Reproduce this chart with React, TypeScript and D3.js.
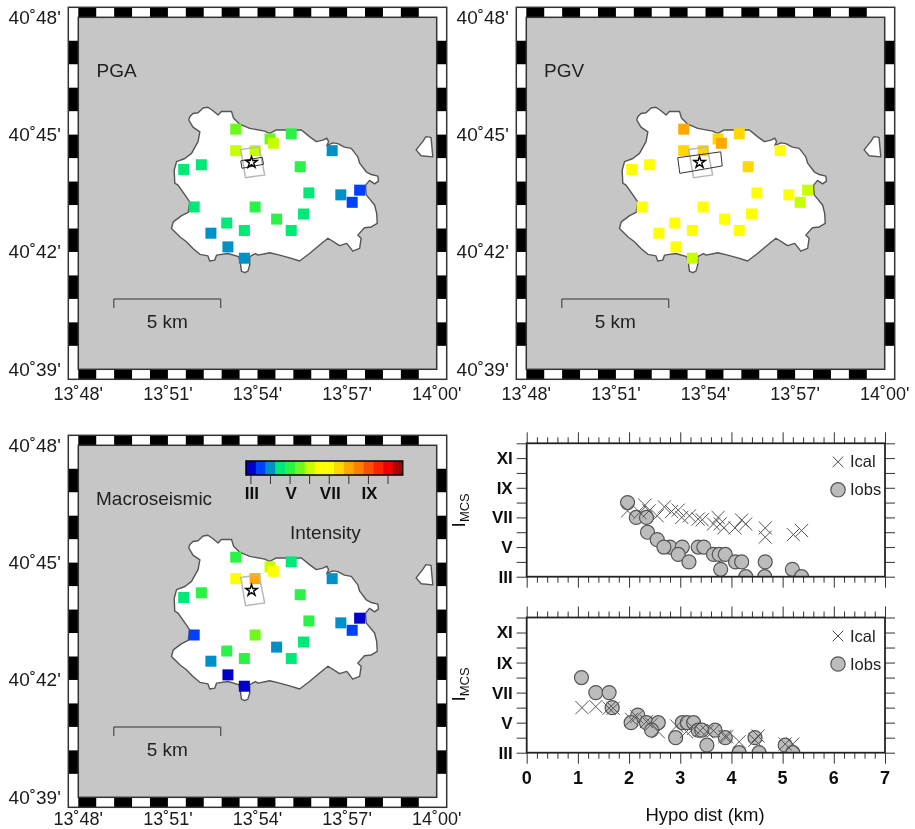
import { useEffect, useRef } from "react";
import * as d3 from "d3";

const FONT = "'Liberation Sans', Arial, sans-serif";

// map values are arc minutes past 13 deg E and 40 deg N
const lonTicks = [48, 51, 54, 57, 60];
const latTicks = [39, 42, 45, 48];

const islandOutline = [
  [51.73, 45.46], [51.84, 45.54], [52.01, 45.56], [52.18, 45.68], [52.34, 45.7], [52.51, 45.61], [52.68, 45.5],
  [52.79, 45.59], [53.13, 45.59], [53.2, 45.42], [53.4, 45.27], [53.74, 45.16], [54.24, 45.09], [54.41, 45.03],
  [54.63, 45.12], [55.47, 45.12], [55.74, 44.95], [55.97, 44.82], [56.19, 44.86], [56.32, 44.91], [56.38, 44.82],
  [56.32, 44.72], [56.52, 44.79], [56.69, 44.77], [56.91, 44.68], [57.14, 44.65], [57.36, 44.43], [57.42, 44.27],
  [57.64, 44.05], [57.81, 43.98], [58.03, 43.94], [58.05, 43.81], [57.92, 43.74], [57.75, 43.83], [57.62, 43.71],
  [57.62, 43.63], [57.64, 43.46], [57.92, 43.2], [57.99, 42.99], [58.01, 42.73], [57.81, 42.64], [57.58, 42.62],
  [57.36, 42.43], [57.47, 42.35], [57.42, 42.09], [57.19, 42.02], [56.99, 42.22], [56.75, 42.16], [56.36, 42.35],
  [56.08, 42.18], [55.74, 41.96], [55.41, 41.77], [55.08, 41.85], [54.74, 41.92], [54.41, 41.98], [54.02, 41.92],
  [53.93, 41.96], [53.74, 41.88], [53.74, 41.67], [53.68, 41.51], [53.57, 41.47], [53.46, 41.51], [53.43, 41.71],
  [53.37, 41.88], [53.01, 41.96], [52.63, 41.92], [52.57, 41.79], [52.4, 41.77], [52.34, 41.9], [52.07, 41.94],
  [51.84, 42.09], [51.62, 42.26], [51.4, 42.39], [51.12, 42.6], [51.18, 42.77], [51.46, 42.93], [51.68, 43.01],
  [51.73, 43.28], [51.57, 43.46], [51.34, 43.71], [51.23, 43.76], [51.21, 44.09], [51.29, 44.31], [51.57, 44.39],
  [51.79, 44.52], [52.01, 44.82], [52.07, 45.07], [51.84, 45.19], [51.7, 45.37],
];
const vivaraOutline = [
  [59.31, 44.61], [59.53, 44.82], [59.64, 44.95], [59.81, 44.93], [59.87, 44.43], [59.48, 44.46],
];

const stationLon = [
  53.27, 54.42, 54.53, 55.13, 53.27, 53.92, 56.5, 51.53, 52.12, 55.43, 55.72, 56.79, 57.42, 57.17, 51.88, 53.92, 55.54,
  54.64, 52.97, 53.56, 55.13, 52.44, 53.01, 53.56,
];
const stationLat = [
  45.14, 44.89, 44.78, 45.02, 44.59, 44.59, 44.59, 44.11, 44.23, 44.18, 43.51, 43.46, 43.58, 43.27, 43.15, 43.15, 42.97,
  42.84, 42.74, 42.55, 42.55, 42.48, 42.13, 41.84,
];
const pgaLevels = [5.5, 5.5, 6, 5, 6, 6, 4, 4.5, 4.5, 5, 4.5, 4, 3.5, 3.5, 4.5, 5, 4.5, 5, 4.5, 4.5, 4.5, 4, 4, 4];
const pgvLevels = [8, 7.5, 8, 7.5, 7.5, 7.5, 7, 7, 7, 7.5, 7, 7, 6, 6, 7, 7, 7, 7, 7, 7, 7, 7, 7, 6];
const macroLevels = [5, 6, 6.5, 4.5, 6.5, 8, 4, 4.5, 5, 5, 5, 4, 3, 3.5, 3.5, 5.5, 4.5, 4, 5, 5, 4.5, 4, 3, 3];

const epicentre = [53.8, 44.29];
const grayFault = [[53.44, 44.62], [54.05, 44.69], [54.24, 43.97], [53.6, 43.9]];
const pgaFault = [[53.44, 44.33], [54.16, 44.42], [54.2, 44.24], [53.48, 44.14]];
const pgvFault = [[53.07, 44.41], [54.51, 44.56], [54.56, 44.2], [53.14, 44.01]];

const palette = [
  "#0000c8", "#0040ff", "#0090c8", "#00e878", "#2cf346", "#6ef81a", "#c8ff00", "#ffff00", "#ffff00", "#ffd800",
  "#ffa800", "#ff8000", "#ff5000", "#ff2000", "#f00000", "#b00000",
];
const barTicks = [3, 4, 5, 6, 7, 8, 9, 10];
const roman: Record<number, string> = { 3: "III", 5: "V", 7: "VII", 9: "IX", 11: "XI" };

const distTop = [
  1.97, 2.14, 2.34, 2.36, 2.55, 2.8, 2.68, 3.04, 2.96, 3.17, 3.35, 3.46, 3.65, 3.76, 3.88, 4.08, 4.2, 4.66, 3.79, 4.28,
  4.65, 5.19, 5.37,
];
const obsTop = [8, 7, 7, 6, 5.5, 5, 5, 5, 4.5, 4, 5, 5, 4.5, 4.5, 4.5, 4, 4, 4, 3.5, 3, 3, 3.5, 3];
const calDistTop = [
  1.97, 2.31, 2.21, 2.39, 2.55, 2.69, 2.83, 2.96, 3.03, 3.18, 3.35, 3.43, 3.65, 3.74, 3.78, 3.85, 4.07, 4.2, 4.28, 4.66,
  4.66, 5.21, 5.37,
];
const calTop = [
  7.44, 7.82, 7.33, 7.44, 7.11, 7.71, 7.4, 7.49, 7, 7.11, 6.89, 6.84, 6.56, 7, 6.56, 6.29, 6.29, 6.82, 6.56, 6.29, 5.67,
  5.84, 6.11,
];

const distBottom = [
  1.07, 1.35, 1.61, 1.67, 2.17, 2.04, 2.34, 2.57, 2.44, 2.91, 3.04, 3.14, 3.26, 3.35, 3.42, 3.68, 3.88, 3.52, 4.15, 4.46,
  4.54, 5.05, 5.2,
];
const obsBottom = [8, 7, 7, 6, 5.5, 5, 5, 5, 4.5, 4, 5, 5, 5, 4.5, 4.5, 4.5, 4, 3.5, 3, 4, 3, 3.5, 3];
const calDistBottom = [
  1.08, 1.35, 1.61, 1.69, 2.05, 2.15, 2.34, 2.44, 2.57, 2.93, 3.12, 3.26, 3.39, 3.52, 3.65, 3.87, 3.91, 4.15, 4.46, 4.52,
  5.05, 5.2,
];
const calBottom = [
  6, 6.07, 5.96, 5.96, 5.22, 5.4, 5.07, 4.91, 4.4, 4.78, 4.4, 4.62, 4.47, 4.4, 4.47, 4.07, 4.07, 3.73, 3.84, 4.11, 3.58,
  3.58,
];

const levelColor = d3.scaleQuantize<string>().domain([2.75, 10.75]).range(palette);
const stamp = (minutes: number, deg: number) => `${deg}˚${String(minutes === 60 ? 0 : minutes).padStart(2, "0")}'`;

function drawMap(root: any, ox: number, oy: number, levels: number[], fault: number[][] | null, labelY: number) {
  const left = ox + 78.3,
    right = ox + 436.7,
    top = oy + 17.3,
    bottom = oy + 369.3,
    strip = 10;
  const x = d3.scaleLinear().domain([48, 60]).range([left, right]);
  const y = d3.scaleLinear().domain([48, 39]).range([top, bottom]);
  const g = root.append("g");

  g.append("rect").attr("x", left - strip).attr("y", top - strip).attr("width", right - left + 2 * strip).attr("height", bottom - top + 2 * strip).attr("fill", "#fff");

  // checkered border, 0.6' per square
  d3.range(20).forEach((i) => {
    if (i % 2) return;
    [top - strip, bottom].forEach((yy) => {
      g.append("rect").attr("x", x(48 + i * 0.6)).attr("y", yy).attr("width", x(48.6) - x(48)).attr("height", strip).attr("fill", "#000");
    });
  });
  d3.range(15).forEach((i) => {
    if (!(i % 2)) return;
    [left - strip, right].forEach((xx) => {
      g.append("rect").attr("x", xx).attr("y", y(48 - i * 0.6)).attr("width", strip).attr("height", y(47.4) - y(48)).attr("fill", "#000");
    });
  });

  g.append("rect").attr("x", left).attr("y", top).attr("width", right - left).attr("height", bottom - top).attr("fill", "#c6c6c6").attr("stroke", "#333").attr("stroke-width", 1.5);
  g.append("rect").attr("x", left - strip).attr("y", top - strip).attr("width", right - left + 2 * strip).attr("height", bottom - top + 2 * strip).attr("fill", "none").attr("stroke", "#333").attr("stroke-width", 1.5);

  const line = d3.line().x((d: any) => x(d[0])).y((d: any) => y(d[1])).curve(d3.curveLinearClosed);
  [islandOutline, vivaraOutline].forEach((shape) => {
    g.append("path").attr("d", line(shape as any)).attr("fill", "#fff").attr("stroke", "#555").attr("stroke-width", 1.4).attr("stroke-linejoin", "round");
  });

  levels.forEach((level, i) => {
    g.append("rect").attr("x", x(stationLon[i]) - 5.5).attr("y", y(stationLat[i]) - 5.5).attr("width", 11).attr("height", 11).attr("fill", levelColor(level));
  });

  g.append("path").attr("d", line(grayFault as any)).attr("fill", "none").attr("stroke", "#b8b8b8").attr("stroke-width", 1.5);
  if (fault) g.append("path").attr("d", line(fault as any)).attr("fill", "none").attr("stroke", "#333").attr("stroke-width", 1);

  g.append("path")
    .attr("d", d3.symbol().type(d3.symbolStar).size(40)())
    .attr("transform", `translate(${x(epicentre[0])},${y(epicentre[1])})`)
    .attr("fill", "#fff")
    .attr("stroke", "#000")
    .attr("stroke-width", 1.4);

  // 5 km scale bar
  const barY = oy + 299;
  g.append("path")
    .attr("d", `M${x(49.19)},${barY + 9}V${barY}H${x(52.77)}V${barY + 9}`)
    .attr("fill", "none")
    .attr("stroke", "#333")
    .attr("stroke-width", 1);
  g.append("text").attr("x", x(50.98)).attr("y", oy + 328).attr("text-anchor", "middle").attr("font-size", 19).attr("fill", "#222").text("5 km");

  lonTicks.forEach((m) => {
    g.append("text").attr("x", x(m)).attr("y", labelY).attr("text-anchor", "middle").attr("font-size", 18).attr("fill", "#1a1a1a").text(stamp(m, m === 60 ? 14 : 13));
  });
  latTicks.forEach((m) => {
    g.append("text").attr("x", left - 17.5).attr("y", y(m) + 6.5).attr("text-anchor", "end").attr("font-size", 19).attr("fill", "#1a1a1a").text(stamp(m, 40));
  });
}

function drawColorBar(root: any) {
  const x = d3.scaleLinear().domain([2.75, 10.75]).range([246, 402.7]);
  const g = root.append("g");
  palette.forEach((c, i) => {
    g.append("rect").attr("x", x(2.75 + i * 0.5)).attr("y", 461).attr("width", x(3.25) - x(2.75) + 0.3).attr("height", 14).attr("fill", c);
  });
  g.append("rect").attr("x", 246).attr("y", 461).attr("width", 156.7).attr("height", 14).attr("fill", "none").attr("stroke", "#000").attr("stroke-width", 1.5);
  barTicks.forEach((t) => {
    g.append("line").attr("x1", x(t)).attr("x2", x(t)).attr("y1", 475).attr("y2", 484).attr("stroke", "#333").attr("stroke-width", 1);
    if (roman[t]) {
      g.append("text").attr("x", x(t) + 1).attr("y", 499).attr("text-anchor", "middle").attr("font-size", 17).attr("font-weight", "bold").attr("fill", "#111").text(roman[t]);
    }
  });
}

function drawProfile(
  root: any,
  id: string,
  top: number,
  bottom: number,
  obsX: number[],
  obsY: number[],
  calX: number[],
  calY: number[],
  showAxis: boolean
) {
  const w0 = 526.7,
    w1 = 885;
  const x = d3.scaleLinear().domain([0, 7]).range([w0, w1]);
  const y = d3.scaleLinear().domain([3, 12]).range([bottom, top]);
  const g = root.append("g");

  g.append("clipPath").attr("id", id).append("rect").attr("x", w0).attr("y", top).attr("width", w1 - w0).attr("height", bottom - top);
  const marks = g.append("g").attr("clip-path", `url(#${id})`);
  obsX.forEach((d, i) => {
    marks.append("circle").attr("cx", x(d)).attr("cy", y(obsY[i])).attr("r", 7).attr("fill", "#bcbcbc").attr("stroke", "#555").attr("stroke-width", 1.2);
  });
  calX.forEach((d, i) => {
    marks
      .append("path")
      .attr("d", d3.symbol().type(d3.symbolTimes).size(115)())
      .attr("transform", `translate(${x(d)},${y(calY[i])})`)
      .attr("fill", "none")
      .attr("stroke", "#555")
      .attr("stroke-width", 1);
  });

  const majors = d3.range(0, 8);
  const minors = d3.range(0, 35).map((i) => i * 0.2).filter((v) => Math.abs(v - Math.round(v)) > 0.01);
  const levels = d3.range(3, 13);
  const tidy = (sel: any) => {
    sel.select(".domain").remove();
    sel.selectAll("line").attr("stroke", "#333").attr("stroke-width", 1);
    return sel;
  };

  [
    [d3.axisBottom(x), bottom],
    [d3.axisTop(x), top],
  ].forEach(([axis, pos]: any) => {
    g.append("g").attr("transform", `translate(0,${pos})`).call(axis.tickValues(minors).tickSize(6).tickFormat("")).call(tidy);
    g.append("g").attr("transform", `translate(0,${pos})`).call(axis.tickValues(majors).tickSize(11).tickFormat("")).call(tidy);
  });

  const leftAxis = d3.axisLeft(y).tickValues(levels).tickSize(10).tickFormat((d: any) => roman[d] ?? "");
  const la = g.append("g").attr("transform", `translate(${w0},0)`).call(leftAxis).call(tidy);
  la.selectAll("text").attr("font-family", FONT).attr("font-size", 17).attr("font-weight", "bold").attr("fill", "#111").attr("dx", -1);
  g.append("g").attr("transform", `translate(${w1},0)`).call(d3.axisRight(y).tickValues(levels).tickSize(10).tickFormat("" as any)).call(tidy);

  g.append("rect").attr("x", w0).attr("y", top).attr("width", w1 - w0).attr("height", bottom - top).attr("fill", "none").attr("stroke", "#222").attr("stroke-width", 1.8);

  // legend
  const lx = 838;
  const ly0 = top + 18.5,
    ly1 = top + 46.5;
  g.append("path").attr("d", d3.symbol().type(d3.symbolTimes).size(75)()).attr("transform", `translate(${lx},${ly0})`).attr("fill", "none").attr("stroke", "#444").attr("stroke-width", 1);
  g.append("circle").attr("cx", lx).attr("cy", ly1).attr("r", 7.2).attr("fill", "#bcbcbc").attr("stroke", "#555").attr("stroke-width", 1.2);
  g.append("text").attr("x", 850).attr("y", ly0 + 5.5).attr("font-size", 16.5).attr("fill", "#222").text("Ical");
  g.append("text").attr("x", 850).attr("y", ly1 + 5.5).attr("font-size", 16.5).attr("fill", "#222").text("Iobs");

  // rotated I with MCS subscript
  const mid = top + 67;
  const lab = g.append("text").attr("transform", `translate(465,${mid}) rotate(-90)`).attr("text-anchor", "middle").attr("font-size", 19).attr("fill", "#111");
  lab.append("tspan").text("I");
  lab.append("tspan").attr("font-size", 13).attr("dy", 4).text("MCS");

  if (showAxis) {
    majors.forEach((m) => {
      g.append("text").attr("x", x(m)).attr("y", bottom + 31).attr("text-anchor", "middle").attr("font-size", 18).attr("font-weight", "bold").attr("fill", "#111").text(m);
    });
    g.append("text").attr("x", 705).attr("y", bottom + 68).attr("text-anchor", "middle").attr("font-size", 18.5).attr("fill", "#111").text("Hypo dist (km)");
  }
}

export default function App() {
  const ref = useRef<SVGSVGElement>(null);

  useEffect(() => {
    const svg = d3.select(ref.current);
    svg.selectAll("*").remove();

    // the source figure is a soft raster, a touch of blur keeps edges alike
    const blur = svg.append("filter").attr("id", "soft").attr("filterUnits", "userSpaceOnUse").attr("x", 0).attr("y", 0).attr("width", 915).attr("height", 829);
    blur.append("feGaussianBlur").attr("stdDeviation", 0.4);

    const root = svg.append("g").attr("font-family", FONT).attr("filter", "url(#soft)");

    drawMap(root, 0, 0, pgaLevels, pgaFault, 400);
    drawMap(root, 448, 0, pgvLevels, pgvFault, 400);
    drawMap(root, 0, 428, macroLevels, null, 825);
    drawColorBar(root);

    const note = (label: string, xx: number, yy: number) =>
      root.append("text").attr("x", xx).attr("y", yy).attr("font-size", 19).attr("fill", "#222").text(label);
    note("PGA", 96.5, 77);
    note("PGV", 544, 77);
    note("Macroseismic", 96, 505);
    note("Intensity", 290, 539);

    drawProfile(root, "clipTop", 443.3, 576.7, distTop, obsTop, calDistTop, calTop, false);
    drawProfile(root, "clipBottom", 617.5, 752.7, distBottom, obsBottom, calDistBottom, calBottom, true);
  }, []);

  return <svg ref={ref} width={915} height={829} style={{ position: "absolute", left: 0, top: 0, background: "#fff" }} />;
}
